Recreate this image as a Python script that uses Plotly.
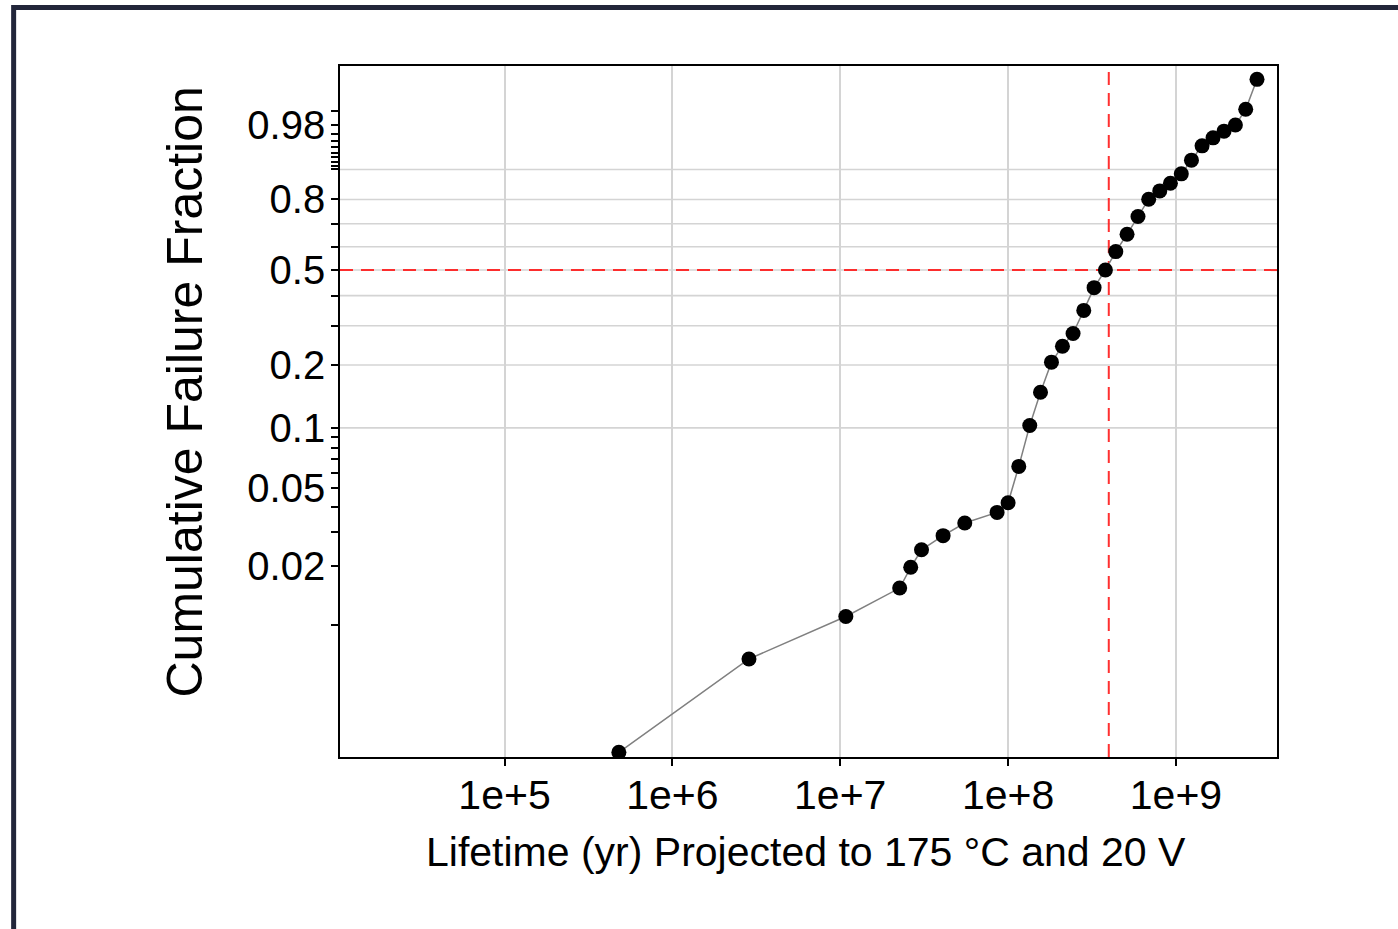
import numpy as np
import plotly.graph_objects as go

# ---------------- data ----------------
lifetime_yr = [4.80e5, 2.86e6, 1.08e7, 2.26e7, 2.63e7, 3.05e7, 4.10e7, 5.52e7, 8.60e7, 1.00e8,
               1.158e8, 1.346e8, 1.56e8, 1.813e8, 2.108e8, 2.438e8, 2.824e8, 3.253e8, 3.80e8, 4.38e8,
               5.113e8, 5.94e8, 6.88e8, 8.01e8, 9.27e8, 1.076e9, 1.237e9, 1.431e9, 1.663e9, 1.934e9,
               2.26e9, 2.604e9, 3.04e9]
failure_fraction = [0.00219, 0.00666, 0.01104, 0.01546, 0.01976, 0.0243, 0.0287, 0.0333, 0.0377, 0.0422,
                    0.0644, 0.1027, 0.149, 0.2062, 0.2438, 0.2777, 0.3484, 0.4299, 0.5002, 0.5786,
                    0.6544, 0.7309, 0.8010, 0.8319, 0.8584, 0.8875, 0.9237, 0.9528, 0.9652, 0.9737,
                    0.9800, 0.9911, 0.99883]

median_fraction = 0.5
characteristic_life_yr = 3.98e8

x_tick_values = [1e5, 1e6, 1e7, 1e8, 1e9]
x_tick_labels = ["1e+5", "1e+6", "1e+7", "1e+8", "1e+9"]

y_labeled_ticks = [0.02, 0.05, 0.1, 0.2, 0.5, 0.8, 0.98]
y_low_ticks = [0.01, 0.02, 0.03, 0.04, 0.05, 0.06, 0.07, 0.08, 0.09]
y_grid_ticks = [0.1, 0.2, 0.3, 0.4, 0.5, 0.6, 0.7, 0.8, 0.9]
y_high_ticks = [0.91, 0.92, 0.93, 0.94, 0.95, 0.96, 0.97, 0.98, 0.99]

x_log_range = [4.020, 9.602]
y_weibull_range = [-6.178, 2.069]


def weibull(F):
    F = np.asarray(F, dtype=float)
    return np.log(-np.log(1.0 - F))


all_y_ticks = sorted(set(y_low_ticks + y_grid_ticks + y_high_ticks))
y_tick_text = [("%g" % v) if v in y_labeled_ticks else "" for v in all_y_ticks]

FONT = "Liberation Sans, Arial, Helvetica, sans-serif"
GRID = "#d4d4d4"
RED = "rgba(255,25,25,0.9)"

fig = go.Figure()

# reference lines (below data)
fig.add_trace(go.Scatter(
    x=[10 ** x_log_range[0], 10 ** x_log_range[1]],
    y=weibull([median_fraction, median_fraction]),
    mode="lines", line=dict(color=RED, width=2, dash="13px,8px"),
    hoverinfo="skip", showlegend=False))
fig.add_trace(go.Scatter(
    x=[characteristic_life_yr, characteristic_life_yr],
    y=y_weibull_range,
    mode="lines", line=dict(color=RED, width=2, dash="13px,8px"),
    hoverinfo="skip", showlegend=False))

# data
fig.add_trace(go.Scatter(
    x=lifetime_yr, y=weibull(failure_fraction),
    mode="lines+markers",
    line=dict(color="#808080", width=1.5),
    marker=dict(color="black", size=15),
    showlegend=False))

shapes = []
for F in y_grid_ticks:
    yv = float(weibull(F))
    shapes.append(dict(type="line", xref="paper", yref="y", x0=0, x1=1, y0=yv, y1=yv,
                       line=dict(color=GRID, width=1.6), layer="below"))
# outer page frame
shapes.append(dict(type="rect", xref="paper", yref="paper",
                   x0=-0.3483, x1=1.18, y0=-0.32, y1=1.0847,
                   line=dict(color="#22263a", width=5), fillcolor="rgba(0,0,0,0)", layer="above"))

fig.update_layout(
    width=1398, height=929,
    margin=dict(l=340, r=121, t=66, b=172),
    paper_bgcolor="white", plot_bgcolor="white",
    font=dict(family=FONT, color="black"),
    showlegend=False,
    shapes=shapes,
    xaxis=dict(
        type="log", range=x_log_range,
        tickmode="array", tickvals=x_tick_values, ticktext=x_tick_labels,
        ticks="outside", ticklen=7, tickwidth=1.5, tickcolor="black",
        tickfont=dict(size=41, color="black", family=FONT),
        ticklabelstandoff=-6,
        showline=True, linecolor="black", linewidth=1.7, mirror=True,
        showgrid=True, gridcolor=GRID, gridwidth=1.6, zeroline=False,
    ),
    yaxis=dict(
        range=y_weibull_range,
        tickmode="array", tickvals=weibull(all_y_ticks), ticktext=y_tick_text,
        ticks="outside", ticklen=7, tickwidth=1.5, tickcolor="black",
        tickfont=dict(size=40, color="black", family=FONT),
        ticklabelstandoff=-2,
        showline=True, linecolor="black", linewidth=1.7, mirror=True,
        showgrid=False, zeroline=False,
    ),
    annotations=[
        dict(text="Cumulative Failure Fraction", textangle=-90,
             xref="paper", yref="paper", x=-0.1654, y=0.5275,
             xanchor="center", yanchor="middle", showarrow=False,
             font=dict(size=50, color="black", family=FONT)),
        dict(text="Lifetime (yr) Projected to 175 °C and 20 V",
             xref="paper", yref="paper", x=0.4972, y=-0.1375,
             xanchor="center", yanchor="middle", showarrow=False,
             font=dict(size=41, color="black", family=FONT)),
    ],
)

fig.write_html("out.html")
